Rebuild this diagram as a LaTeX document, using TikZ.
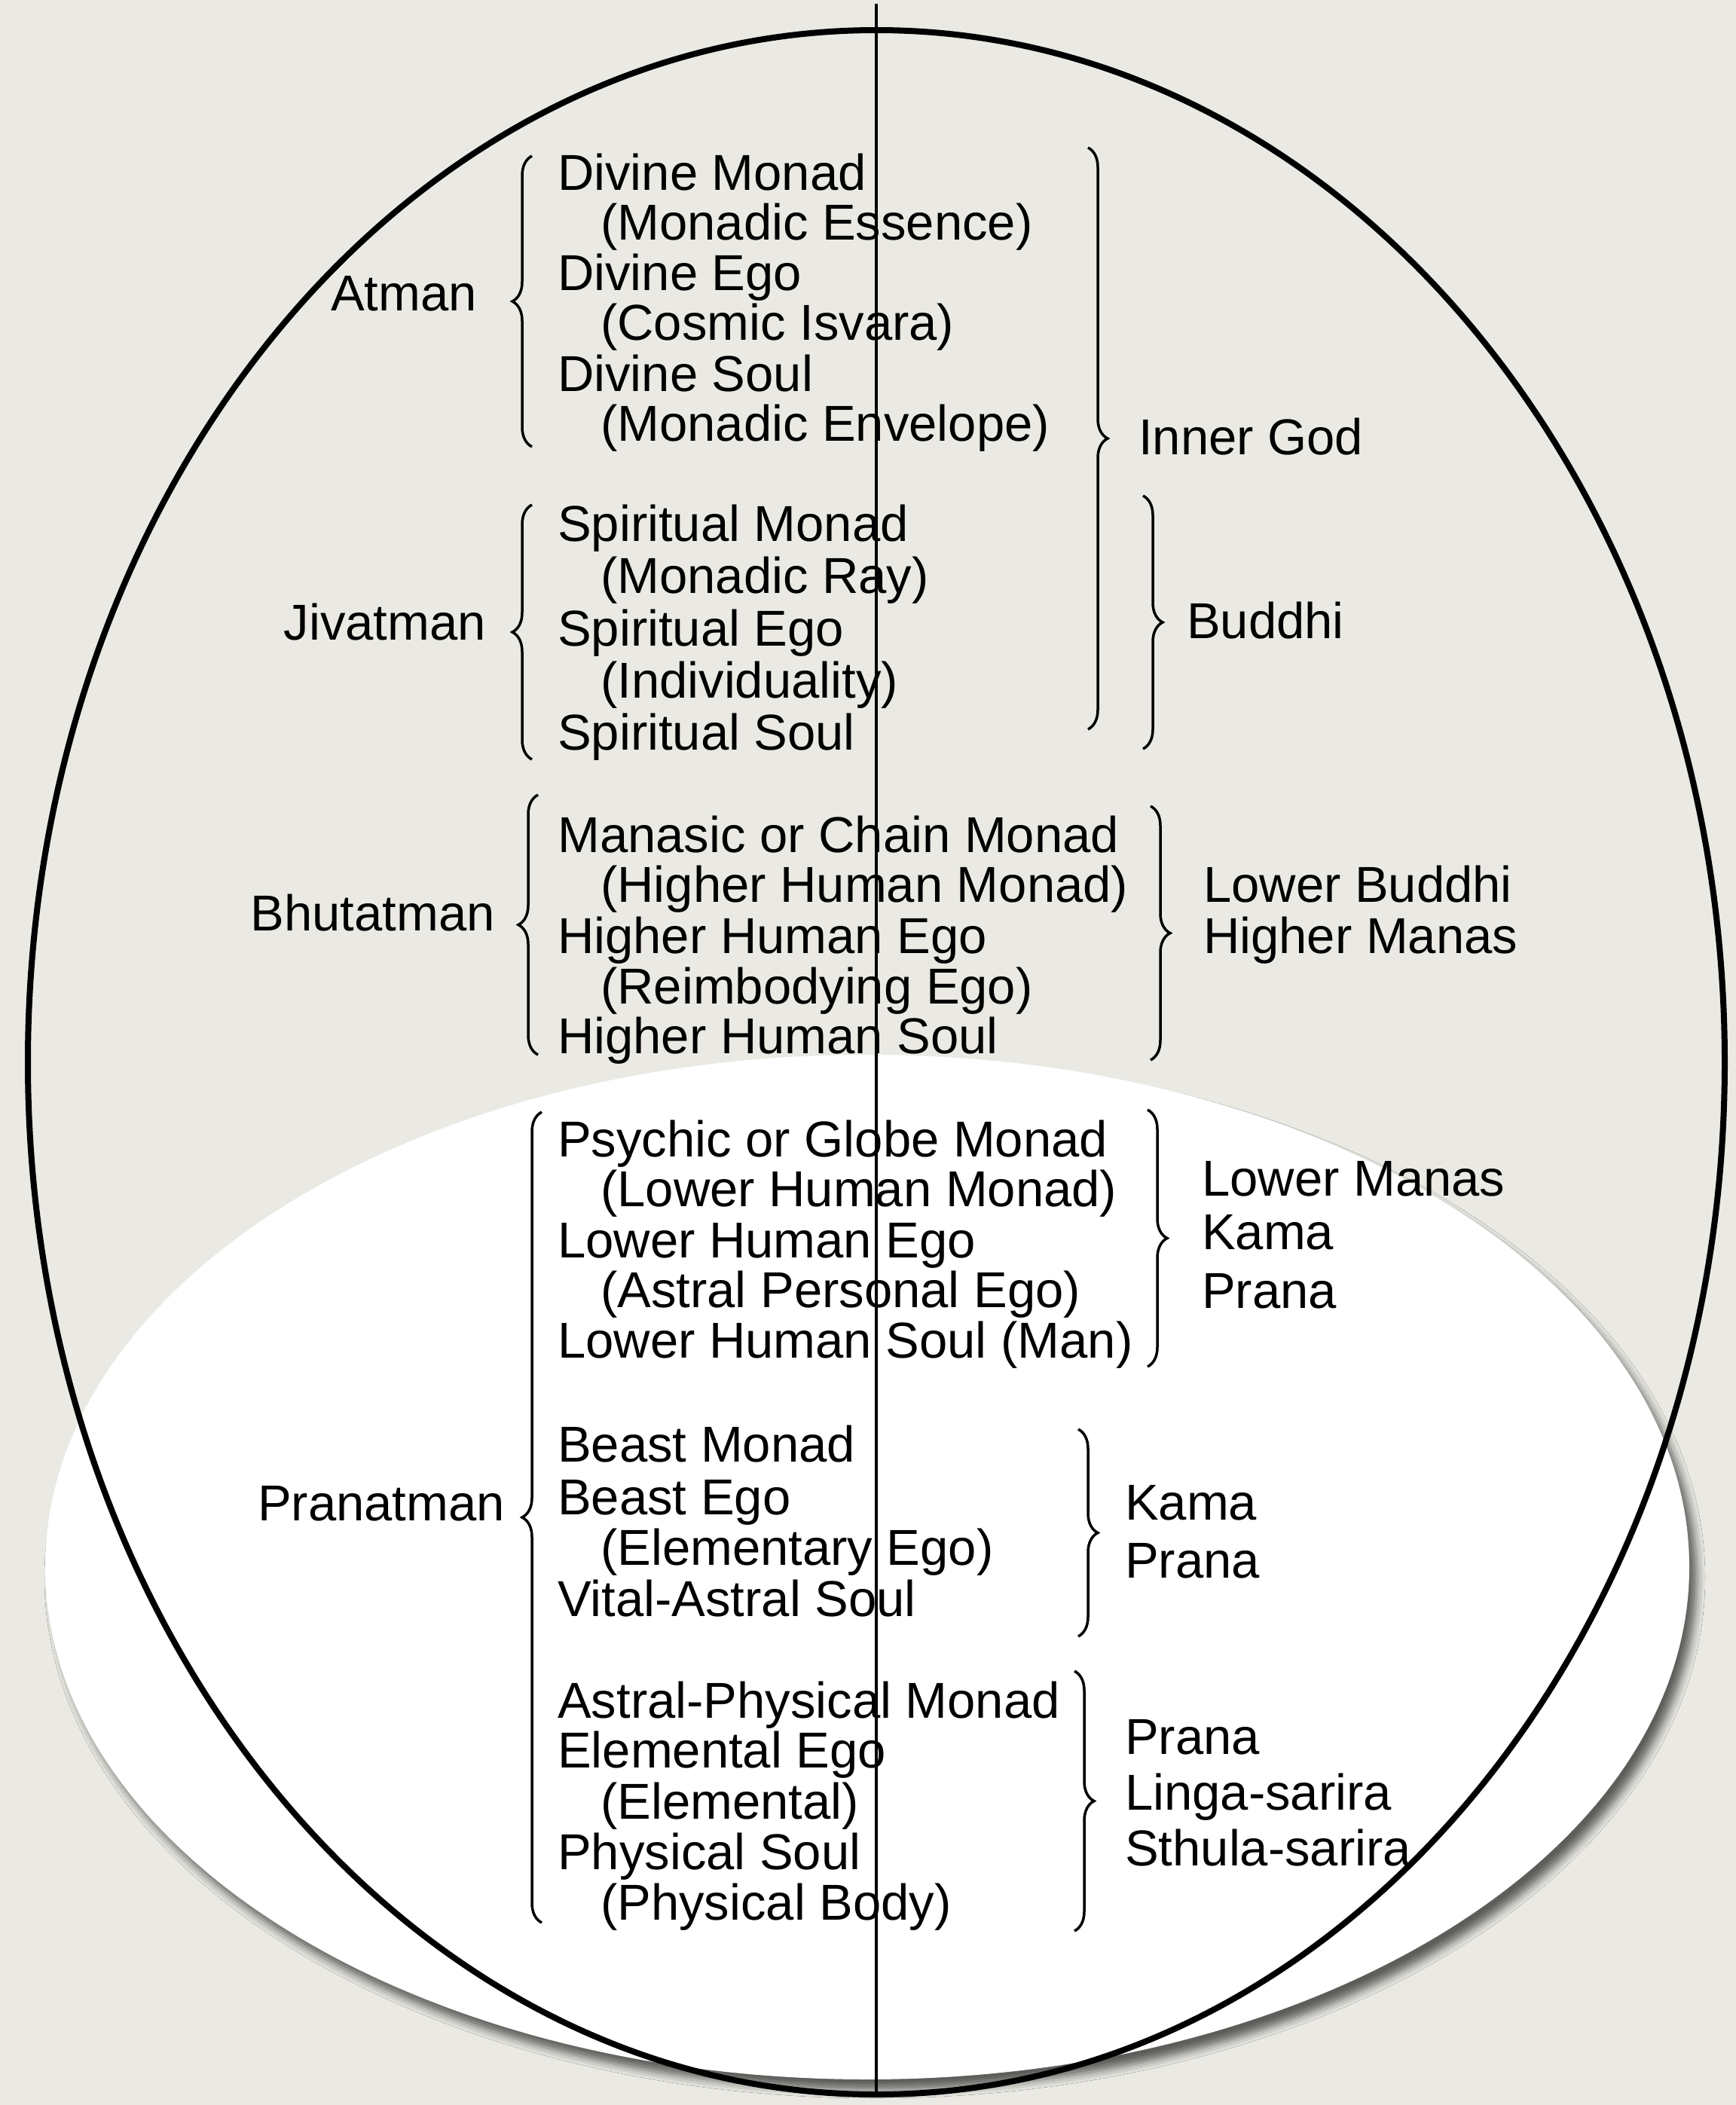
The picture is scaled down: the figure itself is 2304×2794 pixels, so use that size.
\documentclass[tikz,border=0pt]{standalone}
\usepackage{fontspec}
\setmainfont{Liberation Sans}
\usetikzlibrary{decorations.pathreplacing,shadows.blur}
\definecolor{paper}{RGB}{234,233,227}
\begin{document}
\begin{tikzpicture}[x=1pt,y=-1pt,
  item/.style={inner sep=0pt, font=\fontsize{67}{80}\selectfont, anchor=base west},
  group/.style={inner sep=0pt, font=\fontsize{67}{80}\selectfont, anchor=base east},
  bracebar/.style={draw, line width=3.5pt, decorate, decoration={brace, amplitude=26pt}},
]
% canvas
\useasboundingbox (0,0) rectangle (2304,2794);
\fill[paper] (0,0) rectangle (2304,2794);
% white lower ellipse with shadow
\fill[white, blur shadow={shadow xshift=10pt, shadow yshift=-14pt, shadow blur radius=11pt, shadow opacity=60}]
  (1151,2080) ellipse [x radius=1091pt, y radius=680pt];
% black oval
\draw[line width=8pt] (1163,1410) ellipse [x radius=1126pt, y radius=1370pt];
% vertical axis
\coordinate (vtop) at (1163,5);
\coordinate (vbot) at (1163,2776);
\draw[line width=4pt] (vtop) -- (vbot);

% ---------- Atman ----------
\node[item] (a1) at (740,252) {Divine Monad};
\node[item] (a2) at (797,318) {(Monadic Essence)};
\node[item] (a3) at (740,385) {Divine Ego};
\node[item] (a4) at (797,451) {(Cosmic Isvara)};
\node[item] (a5) at (740,519) {Divine Soul};
\node[item] (a6) at (797,585) {(Monadic Envelope)};
\node[group] (atman) at (633,412) {Atman};
\coordinate (atB) at (706,593); \coordinate (atT) at (706,207);
\draw[bracebar] (atB) -- (atT);

% ---------- Jivatman ----------
\node[item] (b1) at (740,718) {Spiritual Monad};
\node[item] (b2) at (797,787) {(Monadic Ray)};
\node[item] (b3) at (740,857) {Spiritual Ego};
\node[item] (b4) at (797,926) {(Individuality)};
\node[item] (b5) at (740,995) {Spiritual Soul};
\node[group] (jivatman) at (645,849) {Jivatman};
\coordinate (jvB) at (706,1008); \coordinate (jvT) at (706,670);
\draw[bracebar] (jvB) -- (jvT);

% Inner God and Buddhi
\coordinate (igT) at (1444,196); \coordinate (igB) at (1444,968);
\draw[bracebar] (igT) -- (igB);
\node[item] (innergod) at (1511,603) {Inner God};
\coordinate (buT) at (1517,658); \coordinate (buB) at (1517,994);
\draw[bracebar] (buT) -- (buB);
\node[item] (buddhi) at (1575,847) {Buddhi};

% ---------- Bhutatman ----------
\node[item] (c1) at (740,1131) {Manasic or Chain Monad};
\node[item] (c2) at (797,1197) {(Higher Human Monad)};
\node[item] (c3) at (740,1265) {Higher Human Ego};
\node[item] (c4) at (797,1332) {(Reimbodying Ego)};
\node[item] (c5) at (740,1398) {Higher Human Soul};
\node[group] (bhutatman) at (657,1235) {Bhutatman};
\coordinate (bhB) at (714,1400); \coordinate (bhT) at (714,1055);
\draw[bracebar] (bhB) -- (bhT);
\coordinate (hmT) at (1527,1070); \coordinate (hmB) at (1527,1407);
\draw[bracebar] (hmT) -- (hmB);
\node[item] (lowerbuddhi) at (1597,1197) {Lower Buddhi};
\node[item] (highermanas) at (1597,1265) {Higher Manas};

% ---------- Pranatman ----------
\node[item] (d1) at (740,1535) {Psychic or Globe Monad};
\node[item] (d2) at (797,1601) {(Lower Human Monad)};
\node[item] (d3) at (740,1669) {Lower Human Ego};
\node[item] (d4) at (797,1735) {(Astral Personal Ego)};
\node[item] (d5) at (740,1802) {Lower Human Soul (Man)};
\coordinate (lmT) at (1523,1473); \coordinate (lmB) at (1523,1814);
\draw[bracebar] (lmT) -- (lmB);
\node[item] (lowermanas) at (1595,1587) {Lower Manas};
\node[item] (kama1) at (1595,1658) {Kama};
\node[item] (prana1) at (1595,1736) {Prana};

\node[item] (d6) at (740,1940) {Beast Monad};
\node[item] (d7) at (740,2010) {Beast Ego};
\node[item] (d8) at (797,2077) {(Elementary Ego)};
\node[item] (d9) at (740,2145) {Vital-Astral Soul};
\coordinate (kpT) at (1431,1897); \coordinate (kpB) at (1431,2172);
\draw[bracebar] (kpT) -- (kpB);
\node[item] (kama2) at (1493,2017) {Kama};
\node[item] (prana2) at (1493,2094) {Prana};

\node[item] (d10) at (740,2280) {Astral-Physical Monad};
\node[item] (d11) at (740,2346) {Elemental Ego};
\node[item] (d12) at (797,2414) {(Elemental)};
\node[item] (d13) at (740,2481) {Physical Soul};
\node[item] (d14) at (797,2548) {(Physical Body)};
\coordinate (psT) at (1426,2218); \coordinate (psB) at (1426,2563);
\draw[bracebar] (psT) -- (psB);
\node[item] (prana3) at (1493,2328) {Prana};
\node[item] (linga) at (1493,2402) {Linga-sarira};
\node[item] (sthula) at (1493,2476) {Sthula-sarira};

\node[group] (pranatman) at (670,2018) {Pranatman};
\coordinate (prB) at (719,2552); \coordinate (prT) at (719,1476);
\draw[bracebar] (prB) -- (prT);
\end{tikzpicture}
\end{document}
